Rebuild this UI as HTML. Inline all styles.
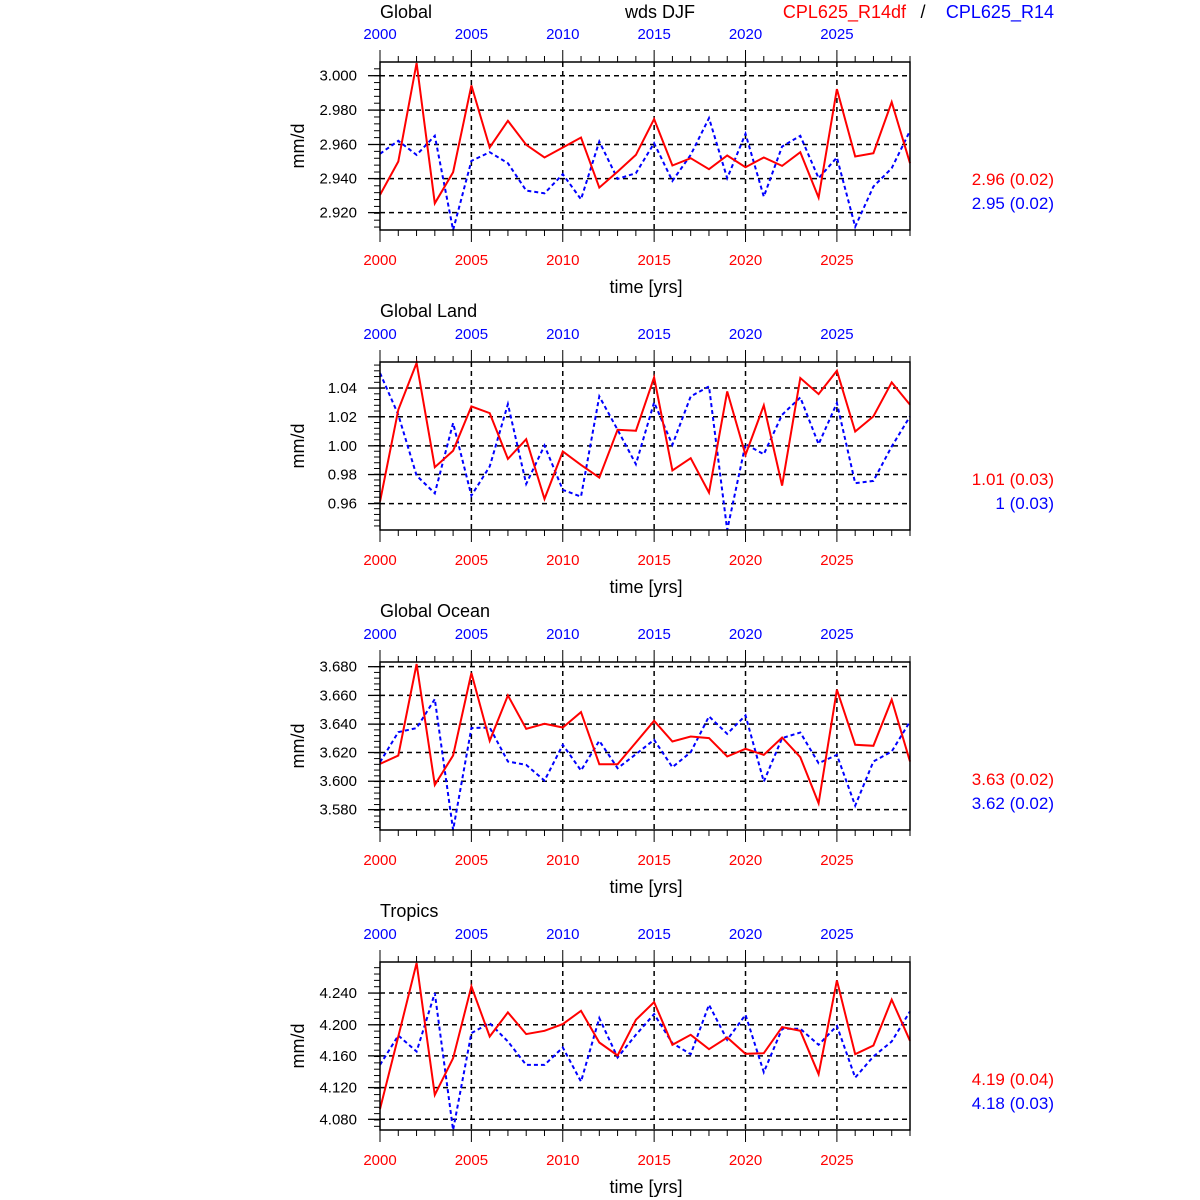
<!DOCTYPE html>
<html><head><meta charset="utf-8"><style>body{margin:0;background:#fff}svg{display:block}text{font-family:"Liberation Sans",sans-serif}</style></head>
<body>
<svg id="s" width="1200" height="1200" xmlns="http://www.w3.org/2000/svg"></svg>
<script>
const P=[
{title:"Global",grid:[63,166,269,371,473],lab:["3.000","2.980","2.960","2.940","2.920"],st:["2.96 (0.02)","2.95 (0.02)"],
r:[420,320,25,445,352,92,278,198,270,308,278,248,398,350,300,193,332,310,343,302,337,308,333,292,428,103,305,295,142,325],
b:[297,258,300,243,525,318,292,325,407,415,358,433,260,372,355,265,378,300,190,370,237,425,275,243,370,308,515,395,340,228]},
{title:"Global Land",grid:[100,186,273,359,446],lab:["1.04","1.02","1.00","0.98","0.96"],st:["1.01 (0.03)","1 (0.03)"],
r:[440,165,25,337,288,155,175,312,253,432,290,330,368,225,228,68,347,310,413,110,300,152,392,70,118,48,230,185,83,150],
b:[55,180,362,415,205,422,335,148,387,272,405,425,125,225,328,143,270,125,95,525,268,298,180,128,268,145,385,378,275,185]},
{title:"Global Ocean",grid:[36,122,208,293,379,464],lab:["3.680","3.660","3.640","3.620","3.600","3.580"],st:["3.63 (0.02)","3.62 (0.02)"],
r:[327,302,28,390,302,55,258,122,222,207,218,172,328,328,263,198,260,245,250,305,282,300,248,307,445,105,270,273,135,320],
b:[322,232,220,133,525,220,218,320,330,377,270,347,258,340,298,255,337,292,185,237,182,380,250,233,325,300,452,320,290,200]},
{title:"Tropics",grid:[115,210,303,398,493],lab:["4.240","4.200","4.160","4.120","4.080"],st:["4.19 (0.04)","4.18 (0.03)"],
r:[462,245,25,420,310,95,245,173,238,228,208,168,263,302,195,142,270,240,283,248,297,295,217,228,358,77,298,272,135,258],
b:[330,242,290,115,525,235,205,260,330,330,278,380,190,308,240,178,265,298,150,255,180,352,222,222,270,213,368,305,260,170]}];
let h='';
const L=380,R=910,W=530,H=168;
h+=`<text x="380" y="18" font-size="18">Global</text><text x="660" y="18" font-size="18" text-anchor="middle">wds DJF</text><text x="906" y="18" font-size="18" fill="#f00" text-anchor="end">CPL625_R14df</text><text x="923" y="18" font-size="18" text-anchor="middle">/</text><text x="1054" y="18" font-size="18" fill="#00f" text-anchor="end">CPL625_R14</text>`;
P.forEach((p,k)=>{
 const T=62+300*k,B=T+H;
 const Y=z=>T+1+(z-25)/500*(H-1), X=i=>L+i*W/29;
 if(k>0)h+=`<text x="380" y="${T-45}" font-size="18">${p.title}</text>`;
 p.grid.forEach((g,j)=>{const y=Y(g);h+=`<line x1="${L}" x2="${R}" y1="${y}" y2="${y}" stroke="#000" stroke-width="1.5" stroke-dasharray="5,4"/><line x1="${L-12}" x2="${L}" y1="${y}" y2="${y}" stroke="#000" stroke-width="1.3"/><text x="357" y="${y+5}" font-size="15" text-anchor="end">${p.lab[j]}</text>`;});
 const d=(Y(p.grid[1])-Y(p.grid[0]))/5;
 for(let y=Y(p.grid[0])-5*d;y<B+1;y+=d){if(y>T&&y<B)h+=`<line x1="${L-6}" x2="${L}" y1="${y}" y2="${y}" stroke="#000"/>`;}
 for(let i=0;i<30;i++){const x=X(i),m=i%5==0;
  if(m&&i>0)h+=`<line x1="${x}" x2="${x}" y1="${T}" y2="${B}" stroke="#000" stroke-width="1.5" stroke-dasharray="5,4"/>`;
  h+=`<line x1="${x}" x2="${x}" y1="${T-(m?12:6)}" y2="${T}" stroke="#000"/><line x1="${x}" x2="${x}" y1="${B}" y2="${B+(m?12:6)}" stroke="#000"/>`;
  if(m){h+=`<text x="${x}" y="${T-23}" font-size="15" fill="#00f" text-anchor="middle">${2000+i}</text><text x="${x}" y="${B+35}" font-size="15" fill="#f00" text-anchor="middle">${2000+i}</text>`;}
 }
 h+=`<text x="646" y="${B+63}" font-size="18" text-anchor="middle">time [yrs]</text>`;
 h+=`<text transform="translate(304,${T+84}) rotate(-90)" font-size="18" text-anchor="middle">mm/d</text>`;
 h+=`<text x="1054" y="${T+123}" font-size="17" fill="#f00" text-anchor="end">${p.st[0]}</text><text x="1054" y="${T+147}" font-size="17" fill="#00f" text-anchor="end">${p.st[1]}</text>`;
 const pts=a=>a.map((z,i)=>X(i).toFixed(1)+','+Y(z).toFixed(1)).join(' ');
 h+=`<polyline points="${pts(p.b)}" fill="none" stroke="#00f" stroke-width="2" stroke-dasharray="4,3"/>`;
 h+=`<polyline points="${pts(p.r)}" fill="none" stroke="#f00" stroke-width="2"/>`;
 h+=`<rect x="${L}" y="${T}" width="${W}" height="${H}" fill="none" stroke="#000" stroke-width="1.5"/>`;
});
document.getElementById('s').innerHTML=h;
</script>
</body></html>
